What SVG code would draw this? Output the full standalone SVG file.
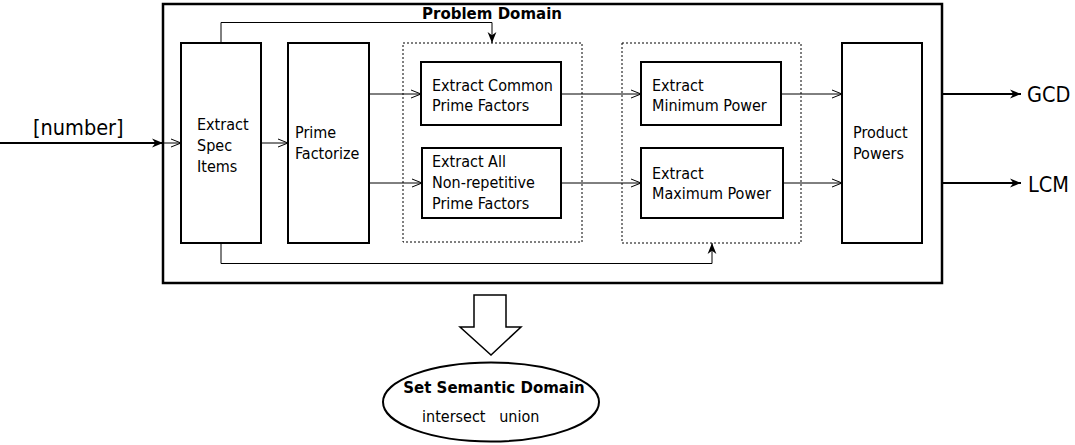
<svg xmlns="http://www.w3.org/2000/svg" width="1075" height="445" viewBox="0 0 1075 445">
<style>
.box{fill:#fff;stroke:#000;stroke-width:2}
.dot{fill:none;stroke:#000;stroke-width:1;stroke-dasharray:2,2}
.t{font-family:"DejaVu Sans Condensed","DejaVu Sans",sans-serif;font-stretch:condensed;font-size:16px;fill:#000}
.big{font-size:21.5px}
.b{font-family:"DejaVu Sans",sans-serif;font-weight:bold;font-size:15px;fill:#000}
.ln{fill:none;stroke:#000;stroke-width:1}
.thick{fill:none;stroke:#000;stroke-width:2}
</style>
<defs>
<marker id="open" viewBox="0 0 10 10" refX="10" refY="5" markerWidth="10" markerHeight="10" markerUnits="userSpaceOnUse" orient="auto"><path d="M0,1 L10,5 L0,9" fill="none" stroke="#000" stroke-width="1"/></marker>
<marker id="solid" viewBox="0 0 10 10" refX="10" refY="5" markerWidth="11" markerHeight="11" markerUnits="userSpaceOnUse" orient="auto"><path d="M0,1 L10,5 L0,9 L3,5 z" fill="#000"/></marker>
</defs>
<rect width="1075" height="445" fill="#fff"/>
<g id="problem-domain">
<rect x="163" y="4" width="779" height="279" fill="none" stroke="#000" stroke-width="2.5"/>
<text class="b" x="492" y="19" text-anchor="middle">Problem Domain</text>
</g>
<g id="group-extract-factors"><rect class="dot" x="403" y="43" width="179" height="199"/></g>
<g id="group-extract-power"><rect class="dot" x="622" y="43" width="179" height="200"/></g>
<g id="extract-spec-items">
<rect class="box" x="181" y="43" width="80" height="200"/>
<text class="t" x="197" y="130">Extract</text>
<text class="t" x="197" y="151">Spec</text>
<text class="t" x="197" y="172">Items</text>
</g>
<g id="prime-factorize">
<rect class="box" x="288" y="43" width="81" height="200"/>
<text class="t" x="295" y="138">Prime</text>
<text class="t" x="295" y="159">Factorize</text>
</g>
<g id="extract-common">
<rect class="box" x="421" y="62" width="140" height="63"/>
<text class="t" x="432" y="91">Extract Common</text>
<text class="t" x="432" y="111">Prime Factors</text>
</g>
<g id="extract-all">
<rect class="box" x="422" y="148" width="139" height="70"/>
<text class="t" x="432" y="167">Extract All</text>
<text class="t" x="432" y="188">Non-repetitive</text>
<text class="t" x="432" y="209">Prime Factors</text>
</g>
<g id="extract-minimum">
<rect class="box" x="641" y="62" width="140" height="63"/>
<text class="t" x="652" y="91">Extract</text>
<text class="t" x="652" y="111">Minimum Power</text>
</g>
<g id="extract-maximum">
<rect class="box" x="641" y="148" width="142" height="70"/>
<text class="t" x="652" y="179">Extract</text>
<text class="t" x="652" y="199">Maximum Power</text>
</g>
<g id="product-powers">
<rect class="box" x="842" y="43" width="80" height="200"/>
<text class="t" x="853" y="138">Product</text>
<text class="t" x="853" y="159">Powers</text>
</g>
<g id="input-label"><text class="t big" x="33" y="135">[number]</text></g>
<g id="gcd"><text class="t big" x="1027" y="102">GCD</text></g>
<g id="lcm"><text class="t big" x="1028" y="192">LCM</text></g>
<g id="set-semantic-domain">
<ellipse cx="491" cy="402" rx="108" ry="39.5" fill="#fff" stroke="#000" stroke-width="2"/>
<text class="b" x="494" y="393" text-anchor="middle">Set Semantic Domain</text>
<text class="t" x="422" y="422" xml:space="preserve">intersect   union</text>
</g>
<g id="connectors">
<line class="thick" x1="0" y1="143" x2="163" y2="143" marker-end="url(#solid)"/>
<line class="ln" x1="163" y1="143" x2="181" y2="143" marker-end="url(#open)"/>
<line class="ln" x1="261" y1="143" x2="288" y2="143" marker-end="url(#open)"/>
<line class="ln" x1="369" y1="94" x2="421" y2="94" marker-end="url(#open)"/>
<line class="ln" x1="369" y1="183" x2="422" y2="183" marker-end="url(#open)"/>
<line class="ln" x1="561" y1="94" x2="641" y2="94" marker-end="url(#open)"/>
<line class="ln" x1="561" y1="183" x2="641" y2="183" marker-end="url(#open)"/>
<line class="ln" x1="781" y1="94" x2="842" y2="94" marker-end="url(#open)"/>
<line class="ln" x1="783" y1="183" x2="842" y2="183" marker-end="url(#open)"/>
<line class="thick" x1="942" y1="94" x2="1021" y2="94" marker-end="url(#solid)"/>
<line class="thick" x1="942" y1="183" x2="1021" y2="183" marker-end="url(#solid)"/>
<path class="ln" d="M221,43 V22.5 H492 V43" marker-end="url(#solid)"/>
<path class="ln" d="M221,243 V263.5 H712 V243" marker-end="url(#solid)"/>
<path d="M474,295 H506 V327 H521 L491,355 L460,327 H474 Z" fill="#fff" stroke="#000" stroke-width="1.5"/>
</g>
</svg>
